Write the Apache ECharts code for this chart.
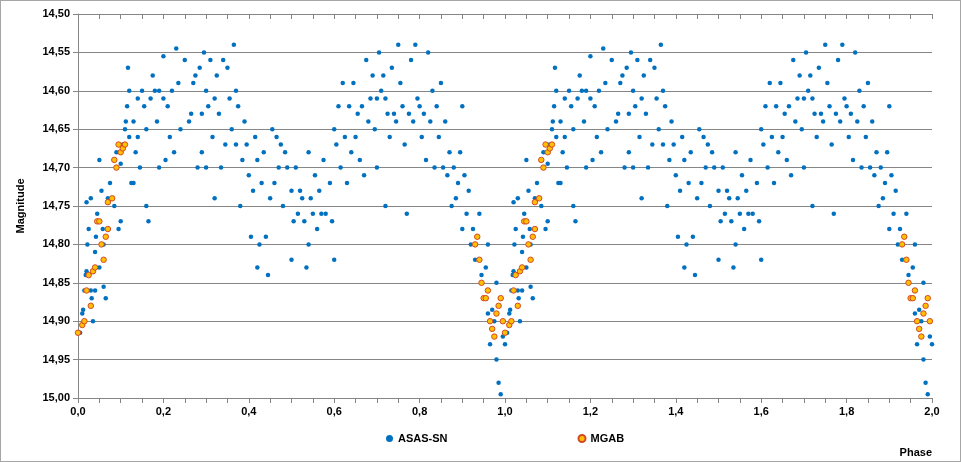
<!DOCTYPE html>
<html>
<head>
<meta charset="utf-8">
<script src="https://cdn.jsdelivr.net/npm/echarts@6/dist/echarts.min.js"></script>
<style>
  html, body { margin: 0; padding: 0; background: #fff; }
  #chart { width: 959px; height: 460px; border: 1px solid #a6a6a6; }
</style>
</head>
<body>
<div id="chart"></div>
<script>
// phase/magnitude for one cycle (0..1), repeated for the second cycle
const asasPhase = [0.005,0.01,0.012,0.015,0.018,0.02,0.022,0.025,0.02,0.03,0.03,0.032,0.035,0.04,0.04,0.042,0.045,0.048,0.05,0.05,0.055,0.058,0.06,0.06,0.065,0.07,0.075,0.08,0.085,0.09,0.09,0.095,0.1,0.1,0.105,0.11,0.112,0.115,0.117,0.12,0.12,0.125,0.13,0.13,0.135,0.14,0.14,0.145,0.15,0.155,0.16,0.16,0.165,0.17,0.175,0.18,0.185,0.19,0.19,0.2,0.2,0.205,0.21,0.215,0.22,0.225,0.23,0.235,0.24,0.25,0.26,0.265,0.27,0.275,0.28,0.285,0.29,0.29,0.295,0.3,0.3,0.305,0.31,0.315,0.32,0.32,0.325,0.33,0.335,0.34,0.345,0.35,0.355,0.36,0.365,0.37,0.37,0.375,0.38,0.385,0.39,0.395,0.4,0.405,0.41,0.415,0.42,0.42,0.425,0.43,0.435,0.44,0.445,0.45,0.455,0.46,0.465,0.47,0.475,0.48,0.485,0.49,0.5,0.5,0.505,0.51,0.515,0.52,0.525,0.53,0.535,0.54,0.54,0.545,0.55,0.555,0.56,0.565,0.57,0.575,0.58,0.59,0.595,0.6,0.6,0.605,0.61,0.615,0.62,0.625,0.63,0.635,0.64,0.645,0.65,0.655,0.66,0.665,0.67,0.675,0.68,0.685,0.69,0.695,0.7,0.7,0.705,0.71,0.715,0.72,0.72,0.725,0.73,0.735,0.74,0.745,0.75,0.755,0.76,0.765,0.77,0.775,0.78,0.785,0.79,0.795,0.8,0.805,0.81,0.815,0.82,0.825,0.83,0.835,0.84,0.845,0.85,0.855,0.86,0.865,0.87,0.875,0.88,0.885,0.89,0.895,0.9,0.9,0.905,0.91,0.915,0.92,0.925,0.93,0.935,0.94,0.945,0.95,0.955,0.96,0.96,0.965,0.97,0.975,0.98,0.98,0.985,0.99,0.99,0.995,1.0];
const asasMag = [14.915,14.89,14.885,14.86,14.84,14.835,14.80,14.78,14.745,14.74,14.86,14.87,14.90,14.86,14.81,14.79,14.76,14.77,14.69,14.83,14.73,14.78,14.80,14.855,14.87,14.74,14.72,14.74,14.75,14.68,14.70,14.78,14.77,14.695,14.67,14.65,14.64,14.62,14.57,14.66,14.60,14.72,14.64,14.72,14.68,14.61,14.66,14.70,14.60,14.62,14.65,14.75,14.77,14.61,14.58,14.60,14.64,14.60,14.70,14.555,14.61,14.69,14.62,14.66,14.60,14.68,14.545,14.59,14.65,14.56,14.64,14.63,14.59,14.58,14.70,14.57,14.63,14.68,14.55,14.60,14.70,14.62,14.56,14.66,14.61,14.74,14.58,14.63,14.70,14.56,14.67,14.57,14.61,14.65,14.54,14.60,14.67,14.62,14.75,14.69,14.64,14.67,14.71,14.79,14.73,14.66,14.69,14.83,14.80,14.72,14.68,14.79,14.84,14.74,14.65,14.72,14.66,14.70,14.67,14.75,14.68,14.70,14.73,14.82,14.77,14.70,14.76,14.73,14.74,14.77,14.83,14.68,14.80,14.74,14.76,14.71,14.78,14.73,14.76,14.69,14.76,14.72,14.77,14.65,14.82,14.67,14.62,14.70,14.59,14.66,14.72,14.62,14.68,14.59,14.66,14.63,14.69,14.62,14.71,14.56,14.64,14.61,14.58,14.65,14.61,14.70,14.55,14.60,14.58,14.61,14.75,14.63,14.66,14.57,14.63,14.64,14.54,14.59,14.62,14.67,14.76,14.63,14.56,14.64,14.54,14.61,14.62,14.66,14.63,14.69,14.55,14.64,14.60,14.70,14.62,14.66,14.59,14.70,14.64,14.71,14.68,14.75,14.70,14.74,14.72,14.68,14.62,14.78,14.71,14.76,14.73,14.80,14.78,14.82,14.79,14.76,14.84,14.87,14.83,14.80,14.89,14.93,14.885,14.90,14.85,14.95,14.98,14.87,14.995,14.92,14.93];

const mgabPhase = [0.0,0.01,0.015,0.02,0.025,0.03,0.035,0.04,0.045,0.05,0.055,0.06,0.065,0.07,0.07,0.08,0.085,0.09,0.095,0.1,0.105,0.11,0.93,0.935,0.94,0.945,0.95,0.955,0.96,0.965,0.97,0.975,0.98,0.985,0.99,0.995];
const mgabMag = [14.915,14.905,14.90,14.86,14.84,14.88,14.835,14.83,14.77,14.77,14.80,14.82,14.79,14.78,14.745,14.74,14.69,14.70,14.67,14.68,14.675,14.67,14.80,14.79,14.82,14.85,14.87,14.87,14.86,14.90,14.91,14.92,14.89,14.88,14.87,14.90];

const xTicks = ['0,0','0,2','0,4','0,6','0,8','1,0','1,2','1,4','1,6','1,8','2,0'];

function twoCycles(ph, mag) {
  const out = [];
  for (let c = 0; c < 2; c++) {
    ph.forEach((p, i) => {
      const x = p + c;
      if (x <= 2) out.push([x, mag[i]]);
    });
  }
  return out;
}

const chart = echarts.init(document.getElementById('chart'));
const font = 'Liberation Sans, Arial, sans-serif';
const axisCol = '#868686';

chart.setOption({
  animation: false,
  textStyle: { fontFamily: font },
  grid: { left: 77, right: 28, top: 13, bottom: 63 },
  legend: {
    bottom: 12,
    left: 380,
    itemGap: 130,
    itemWidth: 7,
    itemHeight: 7,
    textStyle: { fontSize: 11, fontWeight: 'bold', color: '#000', fontFamily: font },
    data: ['ASAS-SN', 'MGAB']
  },
  graphic: [{
    type: 'text', right: 28, bottom: 3,
    style: { text: 'Phase', fontSize: 11, fontWeight: 'bold', fill: '#000', fontFamily: font }
  }],
  xAxis: [{
    type: 'value', min: 0, max: 2, interval: 0.2,
    axisLine: { lineStyle: { color: axisCol } },
    axisTick: { lineStyle: { color: axisCol }, length: 5 },
    minorTick: { show: true, splitNumber: 4, length: 5, lineStyle: { color: axisCol } },
    axisLabel: { fontSize: 11, fontWeight: 'bold', color: '#000', formatter: v => xTicks[Math.round(v / 0.2)] },
    splitLine: { show: false }
  }, {
    type: 'value', min: 0, max: 2, interval: 0.2, position: 'top',
    axisLine: { lineStyle: { color: axisCol } },
    axisTick: { inside: true, lineStyle: { color: axisCol }, length: 5 },
    minorTick: { show: true, splitNumber: 4, length: 5, lineStyle: { color: axisCol } },
    axisLabel: { show: false },
    splitLine: { show: false }
  }],
  yAxis: {
    type: 'value', min: 14.5, max: 15.0, interval: 0.05, inverse: true,
    name: 'Magnitude', nameLocation: 'middle', nameGap: 52,
    nameTextStyle: { fontSize: 11, fontWeight: 'bold', color: '#000' },
    axisLine: { show: true, lineStyle: { color: axisCol } },
    axisTick: { show: true, lineStyle: { color: axisCol }, length: 5 },
    axisLabel: { fontSize: 11, fontWeight: 'bold', color: '#000', formatter: v => v.toFixed(2).replace('.', ',') },
    splitLine: { lineStyle: { color: axisCol, width: 1 } }
  },
  series: [{
    name: 'ASAS-SN', type: 'scatter', symbolSize: 4.5,
    itemStyle: { color: '#0070c0', opacity: 1 },
    data: twoCycles(asasPhase, asasMag)
  }, {
    name: 'MGAB', type: 'scatter', symbolSize: 5.5,
    itemStyle: { color: '#ffc000', borderColor: '#d2492a', borderWidth: 1, opacity: 1 },
    data: twoCycles(mgabPhase, mgabMag)
  }]
});
</script>
</body>
</html>
